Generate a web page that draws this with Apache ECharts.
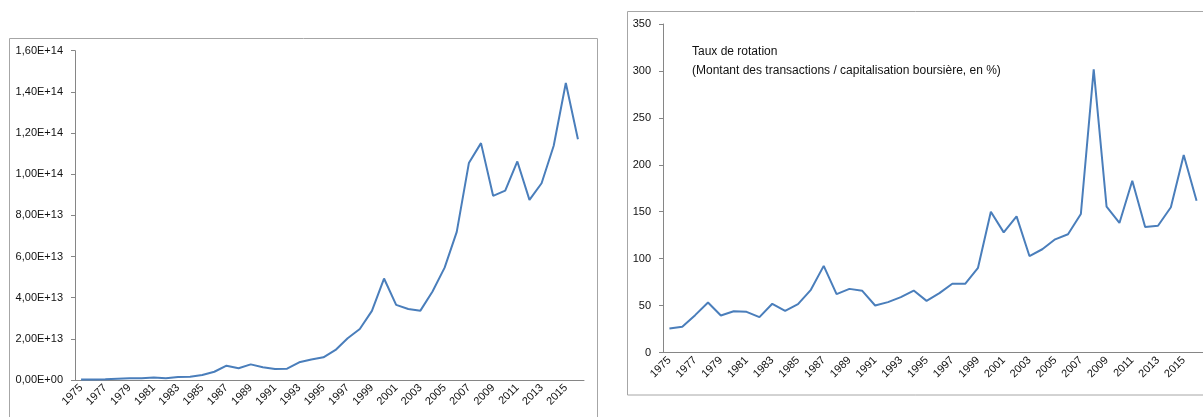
<!DOCTYPE html>
<html>
<head>
<meta charset="utf-8">
<title>Capitalisation et taux de rotation</title>
<script src="https://cdn.jsdelivr.net/npm/echarts@6/dist/echarts.min.js"></script>
<style>
  html, body { margin: 0; padding: 0; background: #fff; }
  #main { width: 1203px; height: 417px; }
</style>
</head>
<body>
<div id="main"></div>
<script>
// années 1975 - 2016
var years = [];
for (var y = 1975; y <= 2016; y++) years.push(String(y));

// montant des transactions (gauche)
var montant = [
  2e11, 3e11, 4e11, 6e11, 8e11, 9e11, 1.2e12, 9e11, 1.5e12, 1.6e12,
  2.4e12, 4.0e12, 6.95e12, 5.7e12, 7.6e12, 6.2e12, 5.3e12, 5.5e12, 8.6e12, 1.0e13,
  1.1e13, 1.46e13, 2.03e13, 2.48e13, 3.36e13, 4.93e13, 3.65e13, 3.45e13, 3.37e13, 4.3e13,
  5.46e13, 7.2e13, 1.054e14, 1.151e14, 8.95e13, 9.2e13, 1.062e14, 8.75e13, 9.56e13, 1.138e14,
  1.443e14, 1.170e14
];

// taux de rotation en % (droite)
var taux = [
  25.6, 27.4, 39.8, 53.2, 39.4, 44, 43.3, 37.7, 51.9, 44.4,
  51.5, 66.8, 92.3, 62.2, 67.8, 65.7, 50.1, 53.7, 59, 66,
  55, 63.2, 73.2, 73.2, 90.2, 150, 128, 145, 102.8, 110,
  120.6, 126, 147.6, 301.7, 155.3, 138, 183, 133.7, 135, 154.7,
  210.4, 161.7
];

var titreDroite = ["Taux de rotation", "(Montant des transactions / capitalisation boursière, en %)"];

var font = "Liberation Sans";
var gris = "#868686";
var bleu = "#4a7ebb";
var texte = "#111";

// format Excel : 1,60E+14
function sci(v) {
  var s = Number(v).toExponential(2).split("e");
  var exp = parseInt(s[1], 10);
  var e = (exp < 0 ? "-" : "+") + (Math.abs(exp) < 10 ? "0" : "") + Math.abs(exp);
  return s[0].replace(".", ",") + "E" + e;
}

function xAxe(idx) {
  return {
    type: "category",
    gridIndex: idx,
    data: years,
    boundaryGap: true,
    axisLine: { lineStyle: { color: gris, width: 1 } },
    axisTick: { interval: 0, length: 4, lineStyle: { color: gris } },
    axisLabel: {
      interval: 1, rotate: 45, margin: 6,
      color: texte, fontFamily: font, fontSize: 11
    },
    splitLine: { show: false }
  };
}

var myChart = echarts.init(document.getElementById("main"));
var option = {
  animation: false,
  title: {
    text: titreDroite.join("\n"),
    left: 687, top: 37,
    textStyle: { fontFamily: font, fontSize: 12, fontWeight: "normal", color: texte, lineHeight: 19 }
  },
  graphic: [
    { type: "rect", shape: { x: 9.5, y: 38.5, width: 588, height: 400 },
      style: { fill: null, stroke: "#a6a6a6", lineWidth: 1 }, silent: true },
    { type: "rect", shape: { x: 627.5, y: 11.5, width: 600, height: 383.5 },
      style: { fill: null, stroke: "#a6a6a6", lineWidth: 1 }, silent: true }
  ],
  grid: [
    { left: 75, top: 50.7, width: 509, height: 329.3 },
    { left: 663, top: 24, width: 540, height: 328.5 }
  ],
  xAxis: [xAxe(0), xAxe(1)],
  yAxis: [
    {
      type: "value", gridIndex: 0, min: 0, max: 1.6e14, interval: 2e13,
      axisLine: { show: true, lineStyle: { color: gris } },
      axisTick: { show: true, length: 4, lineStyle: { color: gris } },
      axisLabel: { margin: 12, color: texte, fontFamily: font, fontSize: 11, formatter: sci },
      splitLine: { show: false }
    },
    {
      type: "value", gridIndex: 1, min: 0, max: 350, interval: 50,
      axisLine: { show: true, lineStyle: { color: gris } },
      axisTick: { show: true, length: 4, lineStyle: { color: gris } },
      axisLabel: { margin: 12, color: texte, fontFamily: font, fontSize: 11 },
      splitLine: { show: false }
    }
  ],
  series: [
    {
      name: "Montant des transactions", type: "line", xAxisIndex: 0, yAxisIndex: 0,
      data: montant, symbol: "none", lineStyle: { color: bleu, width: 2 }
    },
    {
      name: "Taux de rotation", type: "line", xAxisIndex: 1, yAxisIndex: 1,
      data: taux, symbol: "none", lineStyle: { color: bleu, width: 2 }
    }
  ]
};
myChart.setOption(option);
</script>
</body>
</html>
